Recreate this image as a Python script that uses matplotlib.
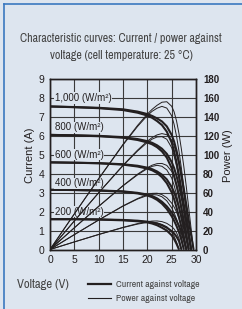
import matplotlib
matplotlib.use("Agg")
import matplotlib.pyplot as plt
import numpy as np
from matplotlib.lines import Line2D
from matplotlib import font_manager as fm

# voltage grid shared by all curves (V)
volts = [0, 5, 10, 15, 18, 20, 21, 22, 23, 24, 25, 25.5, 26, 26.5, 27, 27.5, 28, 28.5, 29, 29.5]
nan = np.nan

# current (A), two curves per irradiance
irradiance_labels = ["1,000 (W/m²)", "800 (W/m²)", "600 (W/m²)", "400 (W/m²)", "200 (W/m²)"]
label_y = [8.0, 6.45, 5.0, 3.5, 2.0]

i_1000a = [7.55, 7.52, 7.48, 7.40, 7.28, 7.15, 7.05, 6.92, 6.76, 6.50, 6.05, 5.70, 5.22, 4.62, 3.92, 3.18, 2.38, 1.55, 0.75, 0]
i_1000b = [7.55, 7.51, 7.46, 7.36, 7.22, 7.07, 6.95, 6.78, 6.57, 6.22, 5.65, 5.18, 4.60, 3.92, 3.18, 2.38, 1.55, 0.75, 0, nan]
i_800a = [6.05, 6.03, 6.00, 5.93, 5.83, 5.72, 5.63, 5.50, 5.32, 5.05, 4.62, 4.30, 3.88, 3.38, 2.80, 2.15, 1.45, 0.73, 0, nan]
i_800b = [6.05, 6.02, 5.98, 5.90, 5.78, 5.65, 5.55, 5.40, 5.18, 4.85, 4.30, 3.88, 3.38, 2.80, 2.15, 1.45, 0.73, 0, nan, nan]
i_600a = [4.60, 4.58, 4.56, 4.50, 4.42, 4.32, 4.24, 4.12, 3.95, 3.70, 3.30, 3.02, 2.66, 2.22, 1.72, 1.17, 0.60, 0, nan, nan]
i_600b = [4.60, 4.58, 4.55, 4.48, 4.38, 4.27, 4.18, 4.04, 3.82, 3.50, 3.02, 2.66, 2.22, 1.72, 1.17, 0.60, 0, nan, nan, nan]
i_400a = [3.15, 3.14, 3.12, 3.07, 2.99, 2.90, 2.82, 2.70, 2.52, 2.28, 1.96, 1.76, 1.52, 1.24, 0.92, 0.50, 0, nan, nan, nan]
i_400b = [3.15, 3.14, 3.11, 3.05, 2.96, 2.85, 2.76, 2.62, 2.42, 2.14, 1.76, 1.52, 1.24, 0.92, 0.50, 0, nan, nan, nan, nan]
i_200a = [1.60, 1.60, 1.59, 1.56, 1.52, 1.47, 1.43, 1.37, 1.28, 1.15, 0.97, 0.85, 0.68, 0.45, 0, nan, nan, nan, nan, nan]
i_200b = [1.60, 1.60, 1.58, 1.54, 1.49, 1.43, 1.37, 1.28, 1.15, 1.00, 0.75, 0.55, 0.30, 0, nan, nan, nan, nan, nan, nan]

currents = [i_1000a, i_1000b, i_800a, i_800b, i_600a, i_600b, i_400a, i_400b, i_200a, i_200b]

x_ticks = [0, 5, 10, 15, 20, 25, 30]
y_ticks = [0, 1, 2, 3, 4, 5, 6, 7, 8, 9]
p_ticks = [0, 20, 40, 60, 80, 100, 120, 140, 160, 180]

bg = "#dde5ef"
ink = "#231f20"
grey_txt = "#444444"
plt.rcParams["font.family"] = ["Liberation Sans", "DejaVu Sans"]

# a condensed face for the title/legend if one is installed
narrow_names = sorted({f.name for f in fm.fontManager.ttflist
                       if "Narrow" in f.name or "Condensed" in f.name})
if narrow_names:
    narrow = {"family": [narrow_names[0], "DejaVu Sans"]}
else:
    narrow = {"family": ["Liberation Sans", "DejaVu Sans"]}

W, H = 242, 309
fig = plt.figure(figsize=(W / 100, H / 100), dpi=100, facecolor=bg)
ax = fig.add_axes([50 / W, 1 - 249.5 / H, 146 / W, 170.5 / H])
ax.set_facecolor(bg)
ax2 = ax.twinx()

v = np.array(volts)
for cur in currents:
    c = np.array(cur)
    ax.plot(v, c, color=ink, lw=1.5, solid_capstyle="butt")
    ax2.plot(v, v * c, color=ink, lw=0.7)

ax.set_xlim(0, 30)
ax.set_ylim(0, 9)
ax2.set_ylim(0, 180)
ax.set_xticks(x_ticks)
ax.set_yticks(y_ticks)
ax2.set_yticks(p_ticks)
ax.grid(True, color="#3a3a3a", lw=0.8)
ax.set_axisbelow(True)
ax.tick_params(length=0, labelsize=7.5, colors=ink, pad=4)
ax2.tick_params(length=0, labelsize=7, colors=ink, pad=5)
for t in ax2.get_yticklabels():
    t.set_fontweight("bold")
for a in (ax, ax2):
    for s in a.spines.values():
        s.set_color(ink)
        s.set_linewidth(1.0)

ax.set_ylabel("Current (A)", fontsize=8, color=ink)
ax2.set_ylabel("Power (W)", fontsize=8, color=ink)
ax.yaxis.set_label_coords(-0.105, 0.55)
ax2.yaxis.set_label_coords(1.185, 0.55)

for lab, y in zip(irradiance_labels, label_y):
    ax.text(1.0, y, lab, fontsize=7, color=ink, va="center", ha="left",
            bbox=dict(facecolor=bg, edgecolor="none", pad=0.5))

title = fig.text(0.5, 1 - 47 / H,
                 "Characteristic curves: Current / power against\nvoltage (cell temperature: 25 °C)",
                 ha="center", va="center", fontsize=9, color=grey_txt, linespacing=1.75, **narrow)
xlab = fig.text(17 / W, 1 - 284 / H, "Voltage (V)", fontsize=9.5, color=grey_txt, va="center", **narrow)
leg = fig.legend(handles=[Line2D([], [], color=ink, lw=1.6), Line2D([], [], color=ink, lw=0.8)],
                 labels=["Current against voltage", "Power against voltage"],
                 loc="upper left", bbox_to_anchor=(88 / W, 1 - 280 / H), frameon=False,
                 prop=dict(size=7, **narrow), handlelength=2.4, handletextpad=0.45,
                 labelspacing=0.55, borderaxespad=0, borderpad=0, labelcolor=grey_txt)

# shrink the condensed texts to the widths seen in the reference
fig.canvas.draw()
r = fig.canvas.get_renderer()
tw = title.get_window_extent(r).width
if tw > 202:
    title.set_fontsize(9 * 202 / tw)
xw = xlab.get_window_extent(r).width
if xw > 52:
    xlab.set_fontsize(9.5 * 52 / xw)
lw0 = leg.get_texts()[0].get_window_extent(r).width
if lw0 > 88:
    for t in leg.get_texts():
        t.set_fontsize(7 * 88 / lw0)

# blue frame on the left and top edges
fig.add_artist(Line2D([3.5 / W, 3.5 / W], [0, 1 - 3.5 / H], color="#3a78c0", lw=1.2, transform=fig.transFigure))
fig.add_artist(Line2D([3.5 / W, 1], [1 - 3.5 / H, 1 - 3.5 / H], color="#3a78c0", lw=1.2, transform=fig.transFigure))

fig.savefig("out.png", dpi=100, facecolor=bg)
